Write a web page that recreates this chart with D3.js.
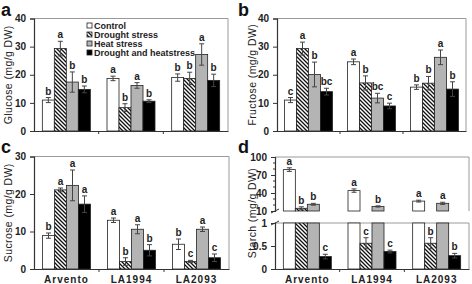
<!DOCTYPE html>
<html><head><meta charset="utf-8">
<script src="https://cdn.jsdelivr.net/npm/d3@7"></script>
<style>
body{margin:0;background:#fff;}
svg{display:block;font-family:"Liberation Sans",Arial,sans-serif;}
</style></head>
<body>
<svg id="chart" width="472" height="284"></svg>
<script>
// ---------- data ----------
const groups = ["Arvento", "LA1994", "LA2093"];
const treatments = ["Control", "Drought stress", "Heat stress", "Drought and heatstress"];

const glucose      = [[11.0, 29.3, 17.4, 14.8], [18.7, 8.3, 16.2, 10.6], [19.0, 18.7, 27.2, 18.0]];
const glucoseErr   = [[0.9, 2.6, 3.6, 1.2], [0.8, 1.4, 1.0, 0.5], [1.3, 2.2, 3.8, 2.2]];
const glucoseSig   = [["b", "a", "b", "b"], ["a", "b", "a", "b"], ["b", "b", "a", "b"]];

const fructose     = [[11.0, 29.3, 20.1, 14.0], [24.6, 17.1, 11.7, 8.9], [15.6, 17.0, 26.2, 14.9]];
const fructoseErr  = [[0.9, 2.3, 4.4, 1.2], [1.0, 2.5, 1.7, 1.0], [0.8, 2.4, 2.6, 2.6]];
const fructoseSig  = [["c", "a", "b", "bc"], ["a", "b", "bc", "c"], ["b", "b", "a", "b"]];

const sucrose      = [[8.9, 21.1, 22.3, 17.3], [13.0, 2.0, 10.6, 5.0], [6.6, 2.0, 10.6, 3.0]];
const sucroseErr   = [[0.7, 0.5, 4.1, 2.2], [0.6, 1.0, 1.2, 1.5], [1.4, 0.3, 0.6, 1.0]];
const sucroseSig   = [["b", "a", "a", "a"], ["a", "b", "a", "b"], ["b", "c", "a", "c"]];

const starch       = [[79.0, 14.5, 21.2, 0.27], [44.0, 0.56, 17.6, 0.38], [26.5, 0.56, 22.8, 0.29]];
const starchErr    = [[3.0, 2.5, 1.5, 0.05], [2.8, 0.12, 1.0, 0.03], [1.5, 0.12, 1.8, 0.05]];
const starchSig    = [["a", "b", "b", "c"], ["a", "c", "b", "c"], ["a", "b", "a", "b"]];

const axisTicksGlu = [0, 10, 20, 30, 40];
const axisTicksSuc = [0, 10, 20, 30];
const axisTicksStarchHigh = [10, 40, 70, 100];
const axisTicksStarchLow = [0, 0.5, 1];

// ---------- setup ----------
const svg = d3.select("#chart");
const defs = svg.append("defs");
const pat = defs.append("pattern").attr("id", "hatch").attr("patternUnits", "userSpaceOnUse")
  .attr("width", 4).attr("height", 4);
pat.append("rect").attr("width", 4).attr("height", 4).attr("fill", "#fff");
pat.append("path").attr("d", "M-1,-1 L5,5 M-1,3 L1,5 M3,-1 L5,1").attr("stroke", "#111").attr("stroke-width", 1.3);

const fills = ["#ffffff", "url(#hatch)", "#b4b4b4", "#000000"];
const axisColor = "#333";
const frameColor = "#9a9a9a";

function xScales(x0, x1) {
  const xg = d3.scaleBand().domain(groups).range([x0, x1]).paddingInner(0).paddingOuter(0);
  const xt = d3.scaleBand().domain(treatments).range([0, 48]).padding(0);
  return {xg, xt};
}

function drawFrame(g, x0, x1, yT, yB) {
  g.append("line").attr("x1", x0).attr("x2", x1).attr("y1", yT).attr("y2", yT).attr("stroke", frameColor);
  g.append("line").attr("x1", x1).attr("x2", x1).attr("y1", yT).attr("y2", yB).attr("stroke", frameColor);
}

function yAxis(g, y, x0, ticks, minor) {
  const ax = g.append("g").attr("transform", `translate(${x0},0)`)
    .call(d3.axisLeft(y).tickValues(ticks).tickSize(4).tickPadding(4).tickFormat(d3.format("~g")));
  ax.select(".domain").attr("stroke", axisColor).attr("stroke-width", 1.2);
  ax.selectAll(".tick line").attr("stroke", axisColor);
  ax.selectAll("text").attr("font-size", 10).attr("font-weight", "bold").attr("fill", "#222");
  if (minor) {
    ax.selectAll(".minor").data(minor).enter().append("line").attr("class", "minor")
      .attr("x1", -2).attr("x2", 0).attr("y1", d => y(d)).attr("y2", d => y(d)).attr("stroke", axisColor);
  }
  return ax;
}

function xAxis(g, xg, yB, labels) {
  const ax = g.append("g").attr("transform", `translate(0,${yB})`)
    .call(d3.axisBottom(xg).tickSize(0).tickPadding(7).tickFormat(labels ? d => d : () => ""));
  ax.select(".domain").attr("stroke", axisColor).attr("stroke-width", 1.2);
  ax.selectAll("text").attr("font-size", 10).attr("font-weight", "bold").attr("fill", "#222")
    .attr("letter-spacing", "1px");
  const bounds = groups.slice(1).map(d => xg(d));
  ax.selectAll(".bt").data(bounds).enter().append("line").attr("class", "bt")
    .attr("x1", d => d).attr("x2", d => d).attr("y1", 0).attr("y2", 3).attr("stroke", axisColor);
}

function yTitle(g, text, x, yMid) {
  g.append("text").attr("transform", `translate(${x},${yMid}) rotate(-90)`)
    .attr("text-anchor", "middle").attr("font-size", 10.5).attr("fill", "#222")
    .attr("letter-spacing", "0.4px").text(text);
}

function panelLetter(text, x, y) {
  svg.append("text").attr("x", x).attr("y", y).attr("font-size", 18).attr("font-weight", "bold")
    .attr("fill", "#111").text(text);
}

function barPanel(cfg) {
  const g = svg.append("g");
  const {xg, xt} = xScales(cfg.x0, cfg.x1);
  const y = d3.scaleLinear().domain([0, cfg.ymax]).range([cfg.yB, cfg.yT]);
  drawFrame(g, cfg.x0, cfg.x1, cfg.yT, cfg.yB);
  const off = (xg.bandwidth() - 48) / 2;
  groups.forEach((grp, gi) => {
    treatments.forEach((t, ti) => {
      const v = cfg.vals[gi][ti], e = cfg.errs[gi][ti];
      const bx = xg(grp) + off + xt(t);
      const bw = xt.bandwidth();
      g.append("rect").attr("x", bx).attr("y", y(v)).attr("width", bw).attr("height", y(0) - y(v))
        .attr("fill", fills[ti]).attr("stroke", "#222").attr("stroke-width", 0.8);
      const cx = bx + bw / 2;
      g.append("line").attr("x1", cx).attr("x2", cx).attr("y1", y(v - e)).attr("y2", y(v + e)).attr("stroke", "#444");
      g.append("line").attr("x1", cx - 2.5).attr("x2", cx + 2.5).attr("y1", y(v + e)).attr("y2", y(v + e)).attr("stroke", "#444");
      g.append("line").attr("x1", cx - 2.5).attr("x2", cx + 2.5).attr("y1", y(v - e)).attr("y2", y(v - e)).attr("stroke", "#444");
      g.append("text").attr("x", cx).attr("y", y(v + e) - 3).attr("text-anchor", "middle")
        .attr("font-size", 10).attr("font-weight", "bold").attr("fill", "#222").text(cfg.sig[gi][ti]);
    });
  });
  yAxis(g, y, cfg.x0, cfg.ticks);
  xAxis(g, xg, cfg.yB, cfg.labels);
  yTitle(g, cfg.title, cfg.titleX, (cfg.yT + cfg.yB) / 2);
  return g;
}

// ---------- panels a, b, c ----------
barPanel({x0: 34, x1: 228, yT: 18.5, yB: 131, ymax: 40, ticks: axisTicksGlu,
  vals: glucose, errs: glucoseErr, sig: glucoseSig, labels: false, title: "Glucose  (mg/g DW)", titleX: 12});
barPanel({x0: 277, x1: 466, yT: 18.5, yB: 131, ymax: 40, ticks: axisTicksGlu,
  vals: fructose, errs: fructoseErr, sig: fructoseSig, labels: false, title: "Fructose  (mg/g DW)", titleX: 256});
barPanel({x0: 34, x1: 229, yT: 156.5, yB: 269, ymax: 30, ticks: axisTicksSuc,
  vals: sucrose, errs: sucroseErr, sig: sucroseSig, labels: true, title: "Sucrose  (mg/g DW)", titleX: 12});

// ---------- panel d (broken axis) ----------
(function () {
  const g = svg.append("g");
  const x0 = 275, x1 = 469;
  const yHiT = 157, yHiB = 211, yLoT = 223, yLoB = 269;
  const {xg, xt} = xScales(x0, x1);
  const yHi = d3.scaleLinear().domain([10, 100]).range([yHiB, yHiT]);
  const yLo = d3.scaleLinear().domain([0, 1]).range([yLoB, yLoT]);
  g.append("line").attr("x1", x0).attr("x2", x1).attr("y1", yHiT).attr("y2", yHiT).attr("stroke", frameColor);
  g.append("line").attr("x1", x1).attr("x2", x1).attr("y1", yHiT).attr("y2", yHiB).attr("stroke", frameColor);
  g.append("line").attr("x1", x0).attr("x2", x1).attr("y1", yLoT).attr("y2", yLoT).attr("stroke", frameColor);
  g.append("line").attr("x1", x1).attr("x2", x1).attr("y1", yLoT).attr("y2", yLoB).attr("stroke", frameColor);
  const off = (xg.bandwidth() - 48) / 2;
  groups.forEach((grp, gi) => {
    treatments.forEach((t, ti) => {
      const v = starch[gi][ti], e = starchErr[gi][ti];
      const bx = xg(grp) + off + xt(t), bw = xt.bandwidth(), cx = bx + bw / 2;
      const vLo = Math.min(v, 1);
      g.append("rect").attr("x", bx).attr("y", yLo(vLo)).attr("width", bw).attr("height", yLo(0) - yLo(vLo))
        .attr("fill", fills[ti]).attr("stroke", "#222").attr("stroke-width", 0.8);
      let ys;
      if (v > 10) {
        g.append("rect").attr("x", bx).attr("y", yHi(v)).attr("width", bw).attr("height", yHi(10) - yHi(v))
          .attr("fill", fills[ti]).attr("stroke", "#222").attr("stroke-width", 0.8);
        ys = yHi;
      } else if (v <= 1) {
        ys = yLo;
      }
      if (ys) {
        g.append("line").attr("x1", cx).attr("x2", cx).attr("y1", ys(v - e)).attr("y2", ys(v + e)).attr("stroke", "#444");
        g.append("line").attr("x1", cx - 2.5).attr("x2", cx + 2.5).attr("y1", ys(v + e)).attr("y2", ys(v + e)).attr("stroke", "#444");
        g.append("line").attr("x1", cx - 2.5).attr("x2", cx + 2.5).attr("y1", ys(v - e)).attr("y2", ys(v - e)).attr("stroke", "#444");
        g.append("text").attr("x", cx).attr("y", ys(v + e) - 3).attr("text-anchor", "middle")
          .attr("font-size", 10).attr("font-weight", "bold").attr("fill", "#222").text(starchSig[gi][ti]);
      }
    });
  });
  yAxis(g, yHi, x0, axisTicksStarchHigh, [20, 30, 50, 60, 80, 90]);
  yAxis(g, yLo, x0, axisTicksStarchLow);
  xAxis(g, xg, yLoB, true);
  [yHiB, yLoT].forEach(yy => {
    g.append("line").attr("x1", x0 - 4).attr("x2", x0 + 4).attr("y1", yy + 2).attr("y2", yy - 2)
      .attr("stroke", axisColor).attr("stroke-width", 1);
  });
  g.append("rect").attr("x", x0 - 1.5).attr("y", yHiB + 1).attr("width", 3).attr("height", yLoT - yHiB - 2).attr("fill", "#fff");
  yTitle(g, "Starch  (mg/g DW)", 256, (yHiT + yLoB) / 2);
})();

// ---------- legend ----------
const leg = svg.append("g").attr("transform", "translate(87,26)");
treatments.forEach((t, i) => {
  const row = leg.append("g").attr("transform", `translate(0,${i * 9})`);
  row.append("rect").attr("x", 0).attr("y", -3).attr("width", 5).attr("height", 5)
    .attr("fill", fills[i]).attr("stroke", "#222").attr("stroke-width", 0.8);
  row.append("text").attr("x", 7).attr("y", 2.5).attr("font-size", 9).attr("font-weight", "bold")
    .attr("fill", "#222").text(t);
});

// ---------- panel letters ----------
panelLetter("a", 1, 16);
panelLetter("b", 238, 16);
panelLetter("c", 1, 153);
panelLetter("d", 238, 153);
</script>
</body></html>
